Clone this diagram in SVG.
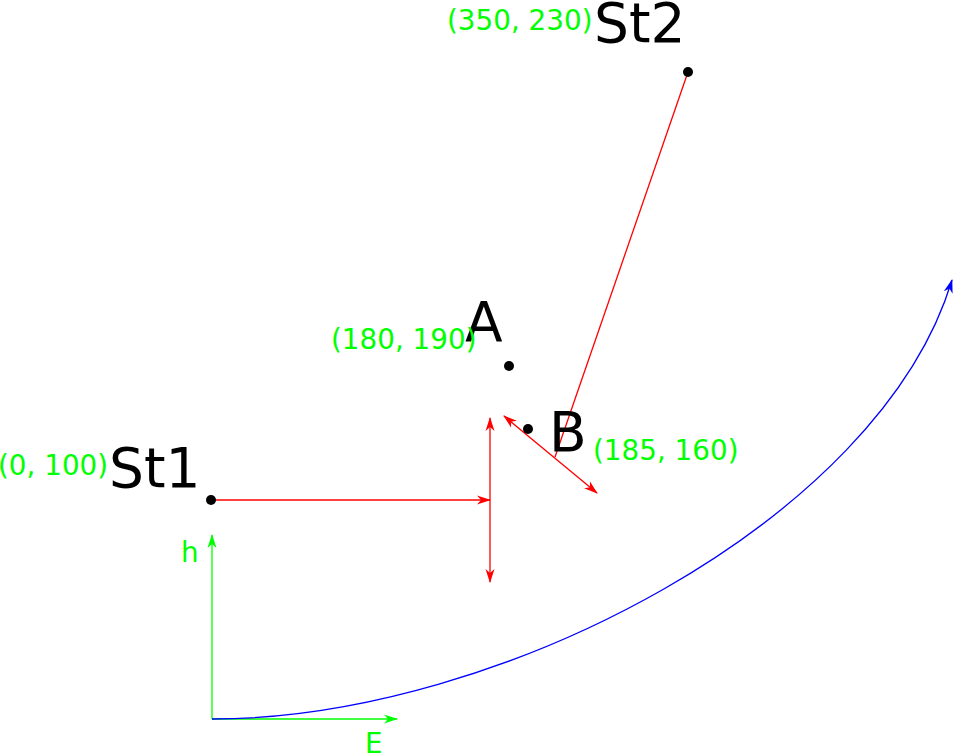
<svg xmlns="http://www.w3.org/2000/svg" width="955" height="756" viewBox="0 0 955 756">
<defs>
<style>
.big{font-family:"DejaVu Sans",sans-serif;font-size:55px;fill:#000}
.lbl{font-family:"DejaVu Sans",sans-serif;font-size:27.8px;fill:#00ff00}
.red{stroke:#ff0000;stroke-width:1.3;fill:none}
.grn{stroke:#00ff00;stroke-width:1.3;fill:none}
.blu{stroke:#0000ff;stroke-width:1.3;fill:none}
</style>
<marker id="ar" viewBox="0 0 14 10" refX="13" refY="5" markerWidth="14" markerHeight="10" markerUnits="userSpaceOnUse" orient="auto-start-reverse"><path d="M0,0.5 L14,5 L0,9.5 L4,5 Z" fill="#ff0000"/></marker>
<marker id="ag" viewBox="0 0 14 10" refX="13" refY="5" markerWidth="14" markerHeight="10" markerUnits="userSpaceOnUse" orient="auto"><path d="M0,0.5 L14,5 L0,9.5 L4,5 Z" fill="#00ff00"/></marker>
<marker id="ab" viewBox="0 0 14 10" refX="13" refY="5" markerWidth="14" markerHeight="10" markerUnits="userSpaceOnUse" orient="auto"><path d="M0,0.5 L14,5 L0,9.5 L4,5 Z" fill="#0000ff"/></marker>
</defs>
<g id="connectors">
<line class="red" x1="688" y1="72" x2="555" y2="457"/>
<line class="red" x1="211" y1="500" x2="490" y2="500" marker-end="url(#ar)"/>
<line class="red" x1="490" y1="418" x2="490" y2="582" marker-start="url(#ar)" marker-end="url(#ar)"/>
<line class="red" x1="504" y1="416" x2="597" y2="493" marker-start="url(#ar)" marker-end="url(#ar)"/>
<line class="grn" x1="212" y1="719" x2="212" y2="535" marker-end="url(#ag)"/>
<line class="grn" x1="212" y1="719" x2="397" y2="719" marker-end="url(#ag)"/>
<path class="blu" d="M212,719 C500,719 880,520 952,280" marker-end="url(#ab)"/>
</g>
<g id="St1">
<circle cx="211" cy="500" r="5" fill="#000"/>
<text class="big" x="109" y="487">St1</text>
<text class="lbl" x="-2" y="475">(0, 100)</text>
</g>
<g id="St2">
<circle cx="688" cy="72" r="5" fill="#000"/>
<text class="big" x="594" y="42">St2</text>
<text class="lbl" x="447" y="30">(350, 230)</text>
</g>
<g id="A">
<circle cx="509" cy="366" r="5" fill="#000"/>
<text class="big" x="465" y="341">A</text>
<text class="lbl" x="331" y="349">(180, 190)</text>
</g>
<g id="B">
<circle cx="528" cy="429" r="5" fill="#000"/>
<text class="big" x="549" y="451">B</text>
<text class="lbl" x="593" y="460">(185, 160)</text>
</g>
<g id="axes-labels">
<text class="lbl" x="181" y="562">h</text>
<text class="lbl" x="365" y="753">E</text>
</g>
</svg>
